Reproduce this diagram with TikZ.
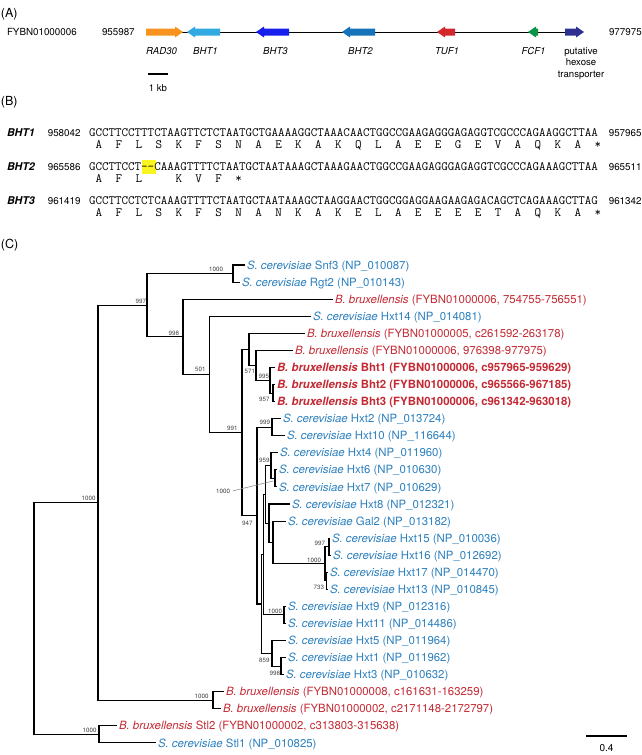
\documentclass[tikz,border=0pt]{standalone}
\usepackage{fontspec}
\setmainfont{TeX Gyre Heros}
\definecolor{scblue}{RGB}{44,128,190}
\definecolor{bbred}{RGB}{196,42,52}
\definecolor{cRAD}{RGB}{247,147,30}
\definecolor{cBHTa}{RGB}{48,170,225}
\definecolor{cBHTc}{RGB}{22,30,235}
\definecolor{cBHTb}{RGB}{20,115,185}
\definecolor{cTUF}{RGB}{210,40,45}
\definecolor{cFCF}{RGB}{10,148,70}
\definecolor{cHEX}{RGB}{46,49,146}
\definecolor{hilite}{RGB}{250,245,30}
\newcommand\garrow[3]{%
  \pgfmathsetmacro\hd{ifthenelse(#2>#1,8,-8)}%
  \fill[#3] (#1,28.5) -- ({#2-\hd},28.5) -- ({#2-\hd},26.5) -- (#2,32) -- ({#2-\hd},37.5) -- ({#2-\hd},35.5) -- (#1,35.5) -- cycle;}
\newcommand\tleaf[5]{\coordinate (t#1) at (#2,{265+17.07*#3}); \node[#4] (l#1) at (t#1) {#5};}
\begin{document}
\begin{tikzpicture}[x=1pt,y=-1pt,
  txt/.style={inner sep=0pt,outer sep=0pt},
  sec/.style={txt,anchor=base west,font=\fontsize{12.5}{14}\selectfont},
  lab/.style={txt,anchor=base west,font=\fontsize{9.8}{11}\selectfont},
  gname/.style={txt,anchor=base,font=\fontsize{9.6}{11}\selectfont\itshape},
  seqname/.style={txt,anchor=base west,font=\fontsize{10.7}{12}\selectfont\bfseries\itshape},
  seq/.style={txt,anchor=base west,font=\ttfamily\fontsize{12.67}{14}\selectfont},
  aa/.style={txt,anchor=base,font=\ttfamily\fontsize{12.67}{14}\selectfont},
  leafb/.style={txt,anchor=base west,font=\fontsize{11.4}{13}\selectfont,yshift=-4.1pt,xshift=2pt},
  cer/.style={leafb,text=scblue},
  bru/.style={leafb,text=bbred},
  boot/.style={txt,anchor=base east,font=\fontsize{6.2}{7}\selectfont,text=black!75},
  br/.style={line width=1.05pt,black}]
\useasboundingbox (0,0) rectangle (642,755);
% ---------------- (A)
\node[sec] (secA) at (1,17.5) {(A)};
\node[lab] (chr) at (7,35.3) {FYBN01000006};
\node[lab] (pos1) at (102,35.3) {955987};
\node[lab] (pos2) at (609,35.3) {977975};
\coordinate (ls) at (180,32);
\coordinate (le) at (568,32);
\draw[line width=0.8pt] (ls) -- (le);
\garrow{146}{183}{cRAD}
\garrow{220}{187}{cBHTa}
\garrow{289}{256}{cBHTc}
\garrow{375}{342}{cBHTb}
\garrow{455}{437}{cTUF}
\garrow{538}{528}{cFCF}
\garrow{565}{584}{cHEX}
\node[gname] (gRAD) at (161.5,54.5) {RAD30};
\node[gname] (gBHT1) at (205.5,54.5) {BHT1};
\node[gname] (gBHT3) at (275.5,54.5) {BHT3};
\node[gname] (gBHT2) at (360.5,54.5) {BHT2};
\node[gname] (gTUF) at (447,54.5) {TUF1};
\node[gname] (gFCF) at (533.5,54.5) {FCF1};
\node[gname,font=\fontsize{9.6}{11}\selectfont] (gHEXa) at (581,54.5) {putative};
\node[gname,font=\fontsize{9.6}{11}\selectfont] (gHEXb) at (581,65.8) {hexose};
\node[gname,font=\fontsize{9.6}{11}\selectfont] (gHEXc) at (581,77.1) {transporter};
\coordinate (kb1) at (148,74);
\coordinate (kb2) at (168,74);
\draw[line width=1.3pt] (kb1) -- (kb2);
\node[gname,font=\fontsize{9.6}{11}\selectfont] (kb) at (158,91) {1 kb};
% ---------------- (B)
\node[sec] (secB) at (1,105.7) {(B)};
\fill[hilite] (142.2,160.3) rectangle (155.5,174.3);
\node[seqname] (s1n) at (7,136.8) {BHT1};
\node[lab,anchor=base east] (s1a) at (80.5,136.8) {958042};
\node[seq] (s1) at (89,136.8) {GCCTTCCTTTCTAAGTTCTCTAATGCTGAAAAGGCTAAACAACTGGCCGAAGAGGGAGAGGTCGCCCAGAAGGCTTAA};
\node[lab,anchor=base east] (s1b) at (641.5,136.8) {957965};
\foreach \a [count=\k from 0] in {A,F,L,S,K,F,S,N,A,E,K,A,K,Q,L,A,E,E,G,E,V,A,Q,K,A,*}
  {\node[aa] (aaone\k) at ({89+(3*\k+1.5)*6.651},148.3) {\a};}
\node[seqname] (s2n) at (7,170.8) {BHT2};
\node[lab,anchor=base east] (s2a) at (80.5,170.8) {965586};
\node[seq] (s2) at (89,170.8) {GCCTTCCT--CAAAGTTTTCTAATGCTAATAAAGCTAAAGAACTGGCCGAAGAGGGAGAGGTCGCCCAGAAAGCTTAA};
\node[lab,anchor=base east] (s2b) at (641.5,170.8) {965511};
\foreach \a/\k in {A/0,F/1,L/2,K/4,V/5,F/6,*/7}
  {\node[aa] (aatwo\k) at ({89+(3*\k+1.5)*6.651},182.3) {\a};}
\node[seqname] (s3n) at (7,204.8) {BHT3};
\node[lab,anchor=base east] (s3a) at (80.5,204.8) {961419};
\node[seq] (s3) at (89,204.8) {GCCTTCCTCTCAAAGTTTTCTAATGCTAATAAAGCTAAGGAACTGGCGGAGGAAGAAGAGACAGCTCAGAAAGCTTAG};
\node[lab,anchor=base east] (s3b) at (641.5,204.8) {961342};
\foreach \a [count=\k from 0] in {A,F,L,S,K,F,S,N,A,N,K,A,K,E,L,A,E,E,E,E,T,A,Q,K,A,*}
  {\node[aa] (aathree\k) at ({89+(3*\k+1.5)*6.651},216.3) {\a};}
% ---------------- (C)
\node[sec] (secC) at (1,248.7) {(C)};
\coordinate (Root) at (34,618.57);
\coordinate (Nbig) at (98,502.7);
\coordinate (Nstl) at (99,734.43);
\coordinate (Nc2) at (213,700.29);
\coordinate (N997) at (147,305.14);
\coordinate (Nsr) at (233,273.54);
\coordinate (N998) at (183,336.74);
\coordinate (N501) at (209.5,374.33);
\coordinate (N991) at (242,432.44);
\coordinate (Na) at (249,349.28);
\coordinate (N571) at (256,365.29);
\coordinate (N995) at (270,380.22);
\coordinate (N957) at (273,393.03);
\coordinate (N947) at (257,515.59);
\coordinate (N999) at (272,427.17);
\coordinate (Nx) at (261.5,604.0);
\coordinate (Np) at (263.5,554.66);
\coordinate (Nr) at (265.5,494.38);
\coordinate (N959) at (271,465.57);
\coordinate (Ng7) at (275,478.38);
\coordinate (Nh) at (269,523.19);
\coordinate (Ng) at (273,542.39);
\coordinate (Nb) at (325,563.73);
\coordinate (N997b) at (329,546.66);
\coordinate (N733) at (326.5,580.8);
\coordinate (N911) at (284,614.94);
\coordinate (N859) at (272,653.35);
\coordinate (N998b) at (281,666.15);
% leaves
\tleaf{Snf3}{245}{0}{cer}{\textit{S. cerevisiae} Snf3 (NP\_010087)}
\tleaf{Rgt2}{240}{1}{cer}{\textit{S. cerevisiae} Rgt2 (NP\_010143)}
\tleaf{Bba}{333}{2}{bru}{\textit{B. bruxellensis} (FYBN01000006, 754755-756551)}
\tleaf{Hxt14}{311}{3}{cer}{\textit{S. cerevisiae} Hxt14 (NP\_014081)}
\tleaf{Bbb}{305}{4}{bru}{\textit{B. bruxellensis} (FYBN01000005, c261592-263178)}
\tleaf{Bbc}{293}{5}{bru}{\textit{B. bruxellensis} (FYBN01000006, 976398-977975)}
\tleaf{Bht1}{275}{6}{bru}{\textbf{\textit{B. bruxellensis} Bht1 (FYBN01000006, c957965-959629)}}
\tleaf{Bht2}{275}{7}{bru}{\textbf{\textit{B. bruxellensis} Bht2 (FYBN01000006, c965566-967185)}}
\tleaf{Bht3}{275}{8}{bru}{\textbf{\textit{B. bruxellensis} Bht3 (FYBN01000006, c961342-963018)}}
\tleaf{Hxt2}{281}{9}{cer}{\textit{S. cerevisiae} Hxt2 (NP\_013724)}
\tleaf{Hxt10}{285}{10}{cer}{\textit{S. cerevisiae} Hxt10 (NP\_116644)}
\tleaf{Hxt4}{278}{11}{cer}{\textit{S. cerevisiae} Hxt4 (NP\_011960)}
\tleaf{Hxt6}{277}{12}{cer}{\textit{S. cerevisiae} Hxt6 (NP\_010630)}
\tleaf{Hxt7}{277}{13}{cer}{\textit{S. cerevisiae} Hxt7 (NP\_010629)}
\tleaf{Hxt8}{290}{14}{cer}{\textit{S. cerevisiae} Hxt8 (NP\_012321)}
\tleaf{Gal2}{286}{15}{cer}{\textit{S. cerevisiae} Gal2 (NP\_013182)}
\tleaf{Hxt15}{330}{16}{cer}{\textit{S. cerevisiae} Hxt15 (NP\_010036)}
\tleaf{Hxt16}{331}{17}{cer}{\textit{S. cerevisiae} Hxt16 (NP\_012692)}
\tleaf{Hxt17}{328}{18}{cer}{\textit{S. cerevisiae} Hxt17 (NP\_014470)}
\tleaf{Hxt13}{328}{19}{cer}{\textit{S. cerevisiae} Hxt13 (NP\_010845)}
\tleaf{Hxt9}{286}{20}{cer}{\textit{S. cerevisiae} Hxt9 (NP\_012316)}
\tleaf{Hxt11}{286}{21}{cer}{\textit{S. cerevisiae} Hxt11 (NP\_014486)}
\tleaf{Hxt5}{286}{22}{cer}{\textit{S. cerevisiae} Hxt5 (NP\_011964)}
\tleaf{Hxt1}{286}{23}{cer}{\textit{S. cerevisiae} Hxt1 (NP\_011962)}
\tleaf{Hxt3}{284}{24}{cer}{\textit{S. cerevisiae} Hxt3 (NP\_010632)}
\tleaf{Bbd}{224}{25}{bru}{\textit{B. bruxellensis} (FYBN01000008, c161631-163259)}
\tleaf{Bbe}{221}{26}{bru}{\textit{B. bruxellensis} (FYBN01000002, c2171148-2172797)}
\tleaf{Stl2}{117}{27}{bru}{\textit{B. bruxellensis} Stl2 (FYBN01000002, c313803-315638)}
\tleaf{Stl1}{156}{28}{cer}{\textit{S. cerevisiae} Stl1 (NP\_010825)}
% branches
\draw[br] (Root) |- (Nbig);  \draw[br] (Root) |- (Nstl);
\draw[br] (Nbig) |- (N997);  \draw[br] (Nbig) |- (Nc2);
\draw[br] (Nc2) |- (tBbd);   \draw[br] (Nc2) |- (tBbe);
\draw[br] (Nstl) |- (tStl2); \draw[br] (Nstl) |- (tStl1);
\draw[br] (N997) |- (Nsr);   \draw[br] (N997) |- (N998);
\draw[br] (Nsr) |- (tSnf3);  \draw[br] (Nsr) |- (tRgt2);
\draw[br] (N998) |- (tBba);  \draw[br] (N998) |- (N501);
\draw[br] (N501) |- (tHxt14); \draw[br] (N501) |- (N991);
\draw[br] (N991) |- (Na);    \draw[br] (N991) |- (N947);
\draw[br] (Na) |- (tBbb);    \draw[br] (Na) |- (N571);
\draw[br] (N571) |- (tBbc);  \draw[br] (N571) |- (N995);
\draw[br] (N995) |- (tBht1); \draw[br] (N995) |- (N957);
\draw[br] (N957) |- (tBht2); \draw[br] (N957) |- (tBht3);
\draw[br] (N947) |- (N999);  \draw[br] (N947) |- (Nx);
\draw[br] (N999) |- (tHxt2); \draw[br] (N999) |- (tHxt10);
\draw[br] (Nx) |- (Np);      \draw[br] (Nx) |- (N859);
\draw[br] (Np) |- (Nr);      \draw[br] (Np) |- (N911);
\draw[br] (Nr) |- (N959);    \draw[br] (Nr) |- (Nh);
\draw[br] (N959) |- (tHxt4); \draw[br] (N959) |- (Ng7);
\draw[br] (Ng7) |- (tHxt6);  \draw[br] (Ng7) |- (tHxt7);
\draw[br] (Nh) |- (tHxt8);   \draw[br] (Nh) |- (Ng);
\draw[br] (Ng) |- (tGal2);   \draw[br] (Ng) |- (Nb);
\draw[br] (Nb) |- (N997b);   \draw[br] (Nb) |- (N733);
\draw[br] (N997b) |- (tHxt15); \draw[br] (N997b) |- (tHxt16);
\draw[br] (N733) |- (tHxt17); \draw[br] (N733) |- (tHxt13);
\draw[br] (N911) |- (tHxt9); \draw[br] (N911) |- (tHxt11);
\draw[br] (N859) |- (tHxt5); \draw[br] (N859) |- (N998b);
\draw[br] (N998b) |- (tHxt1); \draw[br] (N998b) |- (tHxt3);
% bootstrap values
\node[boot] (bsr) at (223,271) {1000};
\node[boot] (b997) at (146,303.3) {997};
\node[boot] (b998) at (179,335) {998};
\node[boot] (b501) at (205.5,371) {501};
\node[boot] (b991) at (237.5,430) {991};
\node[boot] (b571) at (255,373.5) {571};
\node[boot] (b995) at (269,378.3) {995};
\node[boot] (b957) at (269.5,401.5) {957};
\node[boot] (b999) at (270,424.5) {999};
\node[boot] (b959) at (269.5,462.5) {959};
\node[boot] (bg7) at (230,493) {1000};
\coordinate (g7p) at (273,481);
\draw[black!45,line width=0.6pt] ([xshift=3pt]bg7.east) -- (g7p);
\node[boot] (b947) at (252.5,525.5) {947};
\node[boot] (bb) at (321,562) {1000};
\node[boot] (b997b) at (325,545.5) {997};
\node[boot] (b733) at (324,589.5) {733};
\node[boot] (b911) at (282,613) {1000};
\node[boot] (b859) at (269.5,662.5) {859};
\node[boot] (b998b) at (280,675.5) {998};
\node[boot] (bc2) at (208.5,698) {1000};
\node[boot] (bbig) at (95.5,500.5) {1000};
\node[boot] (bstl) at (96.5,732.5) {1000};
% scale bar
\coordinate (sb1) at (586,736);
\coordinate (sb2) at (627,736);
\draw[line width=1.2pt] (sb1) -- (sb2);
\node[txt,anchor=base,font=\fontsize{10}{12}\selectfont] (sbl) at (606.5,751.5) {0.4};
\end{tikzpicture}
\end{document}
